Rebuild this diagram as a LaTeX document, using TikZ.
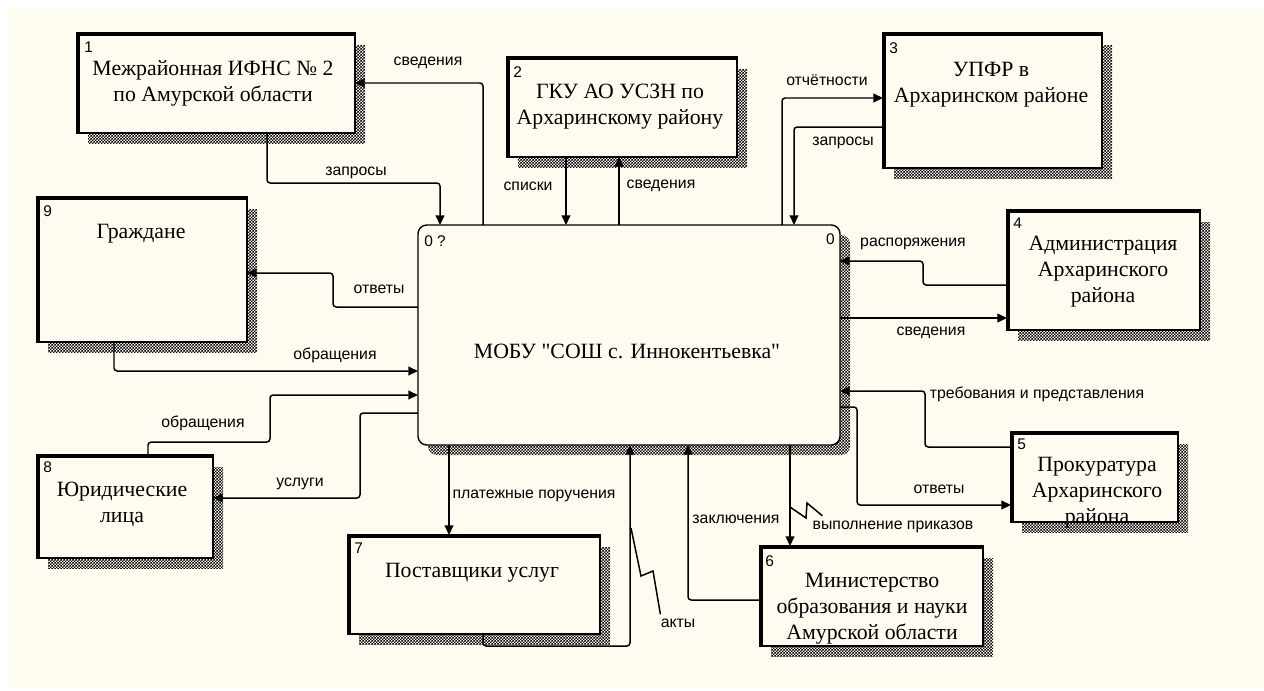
\documentclass[tikz,border=0pt]{standalone}
\usepackage{fontspec}
\setmainfont{Liberation Serif}
\newfontfamily\rawserif{Liberation Serif}
\newfontfamily\labfont{Liberation Sans}
\usetikzlibrary{arrows.meta,calc,fit,patterns}
\definecolor{cream}{RGB}{254,251,241}
\pgfdeclarepatternformonly{idefhatch}{\pgfqpoint{0pt}{0pt}}{\pgfqpoint{1.7pt}{1.7pt}}{\pgfqpoint{1.7pt}{1.7pt}}{%
  \pgfpathrectangle{\pgfqpoint{0pt}{0pt}}{\pgfqpoint{0.85pt}{0.85pt}}%
  \pgfpathrectangle{\pgfqpoint{0.85pt}{0.85pt}}{\pgfqpoint{0.85pt}{0.85pt}}%
  \pgfusepath{fill}}
\tikzset{
  entity/.style={draw, line width=0.8pt, fill=cream, inner sep=0pt, outer sep=0pt},
  thickedge/.style={line width=2.4pt},
  shadowfill/.style={pattern=idefhatch, pattern color=black},
  flow/.style={draw, line width=0.85pt, rounded corners=1.8pt, -{Triangle[length=5.5pt,width=5pt]}},
  flowlabel/.style={font=\labfont\fontsize{9}{10}\selectfont, inner sep=0pt},
  numlabel/.style={font=\labfont\fontsize{8.8}{10}\selectfont, inner sep=0pt, anchor=north west},
  maintext/.style={font=\fontsize{12.4}{14.8}\selectfont, align=center, inner sep=0pt},
  squig/.style={draw, line width=0.85pt},
}
\newcommand\entbox[5]{%
  \fill[shadowfill] ({#2+11},{#3+12}) rectangle ({#4+10},{#5+10});
  \node[entity, fit={(#2,#3) (#4,#5)}] (#1) {};
  \draw[thickedge] ($(#1.south west)+(1,0)$) -- ($(#1.north west)+(1,1)$) -- ($(#1.north east)+(0,1)$);
}
\begin{document}
\begin{tikzpicture}[x=0.02cm, y=-0.02cm]
\useasboundingbox (0,0) rectangle (1264,690);
\fill[white] (0,0) rectangle (1264,690);
\fill[cream] (8,8) rectangle (1264,688);

% centre process
\fill[shadowfill, rounded corners=5pt] (428,235) rectangle (850,455);
\node[entity, rounded corners=5pt, fit={(418,225) (840,445)}] (c0) {};
\node[numlabel] (n0a) at ($(c0.north west)+(6,10)$) {0 ?};
\node[numlabel, anchor=north east] (n0b) at ($(c0.north east)+(-5,8)$) {0};
\node[maintext] (t0) at (627,351) {\rawserif МОБУ "СОШ с. Иннокентьевка"};

% external entities
\entbox{b1}{77}{33}{355}{133}
\entbox{b2}{507}{57}{737}{157}
\entbox{b3}{883}{33}{1102}{168}
\entbox{b4}{1007}{210}{1200}{330}
\entbox{b5}{1011}{432}{1178}{522}
\entbox{b6}{760}{546}{983}{646}
\entbox{b7}{348}{535}{600}{634}
\entbox{b8}{37}{455}{213}{558}
\entbox{b9}{37}{197}{247}{342}

\node[numlabel] (n1) at ($(b1.north west)+(7,9)$) {1};
\node[numlabel] (n2) at ($(b2.north west)+(6,9)$) {2};
\node[numlabel] (n3) at ($(b3.north west)+(6,9)$) {3};
\node[numlabel] (n4) at ($(b4.north west)+(6,8)$) {4};
\node[numlabel] (n5) at ($(b5.north west)+(6,7)$) {5};
\node[numlabel] (n6) at ($(b6.north west)+(5,9)$) {6};
\node[numlabel] (n7) at ($(b7.north west)+(6,8)$) {7};
\node[numlabel] (n8) at ($(b8.north west)+(6,6)$) {8};
\node[numlabel] (n9) at ($(b9.north west)+(6,8)$) {9};

\node[maintext] (t1) at (213,83) {Межрайонная ИФНС № 2\\по Амурской области};
\node[maintext] (t2) at (620,107) {ГКУ АО УСЗН по\\Архаринскому району};
\node[maintext] (t3) at (991,85) {УПФР в\\Архаринском районе};
\node[maintext] (t4) at (1103,272) {Администрация\\Архаринского\\района};
\node[maintext] (t5) at (1097,493) {Прокуратура\\Архаринского\\района};
\node[maintext] (t6) at (872,609) {Министерство\\образования и науки\\Амурской области};
\node[maintext] (t7) at (472,573) {Поставщики услуг};
\node[maintext] (t8) at (122,504) {Юридические\\лица};
\node[maintext] (t9) at (141,234) {Граждане};

% connectors
\draw[flow] ($(c0.north west)+(65,0)$) |- (b1.east);
\draw[flow] ($(b1.south west)+(190,0)$) -- ++(0,50) -| ($(c0.north west)+(22,0)$);
\draw[flow] ($(b2.south west)+(59,0)$) -- ($(c0.north west)+(148,0)$);
\draw[flow] ($(c0.north west)+(201,0)$) -- ($(b2.south west)+(112,0)$);
\draw[flow] ($(c0.north west)+(364,0)$) |- ($(b3.north west)+(0,65)$);
\draw[flow] ($(b3.north west)+(0,94)$) -| ($(c0.north west)+(376,0)$);
\draw[flow] ($(b4.north west)+(0,75)$) -| ($(c0.north east)+(83,36)$) -- ($(c0.north east)+(0,36)$);
\draw[flow] ($(c0.north east)+(0,93)$) -- ($(b4.north west)+(0,108)$);
\draw[flow] ($(b5.north west)+(0,15)$) -| ($(c0.north east)+(85,166)$) -- ($(c0.north east)+(0,166)$);
\draw[flow] ($(c0.north east)+(0,182)$) -| ($(c0.north east)+(17,280)$) -- ($(b5.north west)+(0,73)$);
\draw[flow] ($(c0.south west)+(372,0)$) -- ($(b6.north west)+(30,0)$);
\draw[flow] ($(b6.north west)+(0,54)$) -| ($(c0.south west)+(270,0)$);
\draw[flow] ($(b7.south west)+(135,0)$) -- ++(0,12) -| ($(c0.south west)+(212,0)$);
\draw[flow] ($(c0.south west)+(31,0)$) -- ($(b7.north west)+(101,0)$);
\draw[flow] ($(c0.north west)+(0,82)$) -| ($(b9.north east)+(86,76)$) -- ($(b9.north east)+(0,76)$);
\draw[flow] ($(b9.south west)+(77,0)$) |- ($(c0.north west)+(0,146)$);
\draw[flow] ($(b8.north west)+(111,0)$) |- ($(c0.north west)+(-148,217)$) |- ($(c0.north west)+(0,170)$);
\draw[flow] ($(c0.north west)+(0,188)$) -| ($(b8.north east)+(147,43)$) -- ($(b8.north east)+(0,43)$);

% labels
\node[flowlabel] (l1) at (428,63) {сведения};
\node[flowlabel] (l2) at (356,173) {запросы};
\node[flowlabel] (l3) at (528,186) {списки};
\node[flowlabel] (l4) at (661,186) {сведения};
\node[flowlabel] (l5) at (827,80) {отчётности};
\node[flowlabel] (l6) at (843,143) {запросы};
\node[flowlabel] (l7) at (913,244) {распоряжения};
\node[flowlabel] (l8) at (931,333) {сведения};
\node[flowlabel] (l9) at (1037,394) {требования и представления};
\node[flowlabel] (l10) at (939,489) {ответы};
\node[flowlabel] (l11) at (893,527) {выполнение приказов};
\node[flowlabel] (l12) at (736,519) {заключения};
\node[flowlabel] (l13) at (678,623) {акты};
\node[flowlabel] (l14) at (534,496) {платежные поручения};
\node[flowlabel] (l15) at (379,289) {ответы};
\node[flowlabel] (l16) at (335,355) {обращения};
\node[flowlabel] (l17) at (203,423) {обращения};
\node[flowlabel] (l18) at (300,484) {услуги};

% squiggles
\coordinate (sq1) at (631,528);
\draw[squig] (sq1) -- (641,576) -- (653,571) -- ($(l13.north west)+(0,-4)$);
\coordinate (sq2) at (790,507);
\draw[squig] (sq2) -- (806,518) -- (807,503) -- ($(l11.north west)+(10,-5)$);
\end{tikzpicture}
\end{document}
